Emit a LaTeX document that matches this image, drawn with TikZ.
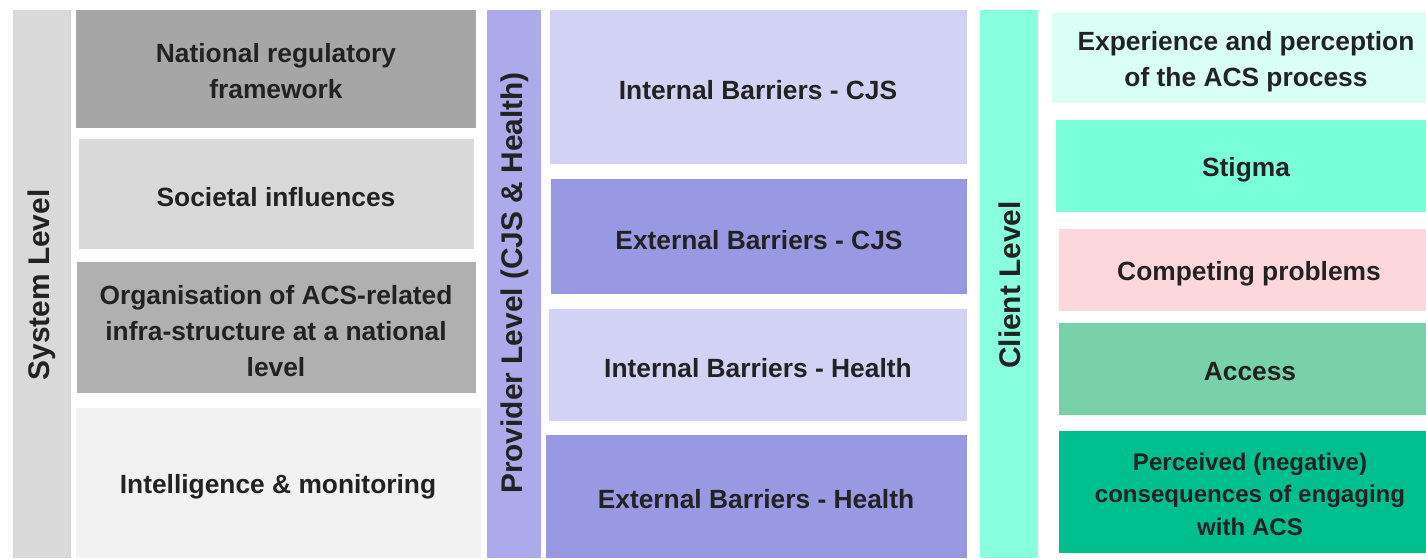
\documentclass[tikz,border=0pt]{standalone}
\usepackage{fontspec}
\setmainfont{Liberation Sans}
\definecolor{txtc}{HTML}{222222}
\definecolor{sysbar}{HTML}{D9D9D9}
\definecolor{sysdark}{HTML}{A6A6A6}
\definecolor{sysmid}{HTML}{B0B0B0}
\definecolor{syslight}{HTML}{F2F2F2}
\definecolor{provbar}{HTML}{ACAAEA}
\definecolor{provlight}{HTML}{D2D2F4}
\definecolor{provdark}{HTML}{9898E3}
\definecolor{clibar}{HTML}{88FFDD}
\definecolor{clipale}{HTML}{DAFFF4}
\definecolor{clistig}{HTML}{7AFFDB}
\definecolor{clipink}{HTML}{FCD8DD}
\definecolor{cliacc}{HTML}{79D1AA}
\definecolor{clideep}{HTML}{00BF8F}

\begin{document}
\begin{tikzpicture}[x=0.02cm,y=-0.02cm]
            \tikzstyle{every node}+=[inner sep=0pt, align=center, text=txtc,
              font=\fontsize{15}{20.5}\selectfont\bfseries]
            \tikzstyle{levellabel}=[rotate=90, font=\fontsize{17}{21}\selectfont\bfseries]
            \useasboundingbox (0,0) rectangle (1426,558);
            % system level
            \fill [sysbar] (13,10) rectangle (71,558);
            \draw (42,285) node [levellabel] (syslvl) {System Level};
            \fill [sysdark] (76,10) rectangle (476,128);
            \draw (276,71) node (natreg) {National regulatory\\framework};
            \fill [sysbar] (79,139) rectangle (474,249);
            \draw (276,197) node (societal) {Societal influences};
            \fill [sysmid] (77,262) rectangle (476,393);
            \draw (276,331) node (orgacs) {Organisation of ACS-related\\infra-structure at a national\\level};
            \fill [syslight] (76,408) rectangle (481,558);
            \draw (278,487) node (intel) {Intelligence \& monitoring};
            % provider level
            \fill [provbar] (487,10) rectangle (541,558);
            \draw (515,283) node [levellabel] (provlvl) {Provider Level (CJS \& Health)};
            \fill [provlight] (550,10) rectangle (967,164);
            \draw (758,90) node (intcjs) {Internal Barriers - CJS};
            \fill [provdark] (551,179) rectangle (967,294);
            \draw (759,240) node (extcjs) {External Barriers - CJS};
            \fill [provlight] (549,309) rectangle (967,421);
            \draw (758,368) node (inthealth) {Internal Barriers - Health};
            \fill [provdark] (546,435) rectangle (967,558);
            \draw (756,499) node (exthealth) {External Barriers - Health};
            % client level
            \fill [clibar] (980,10) rectangle (1038,558);
            \draw (1010,285) node [levellabel] (clilvl) {Client Level};
            \fill [clipale] (1052,13) rectangle (1426,103);
            \draw (1246,62) node (experience) {Experience and perception\\of the ACS process};
            \fill [clistig] (1056,120) rectangle (1426,212);
            \draw (1246,170) node (stigma) {Stigma};
            \fill [clipink] (1059,229) rectangle (1426,311);
            \draw (1249,274) node (competing) {Competing problems};
            \fill [cliacc] (1059,323) rectangle (1426,415);
            \draw (1250,372) node (access) {Access};
            \fill [clideep] (1059,431) rectangle (1426,553);
            \draw (1250,494) node [font=\fontsize{13.7}{18.5}\selectfont\bfseries] (perceived)
              {Perceived (negative)\\consequences of engaging\\with ACS};
        \end{tikzpicture}
\end{document}
